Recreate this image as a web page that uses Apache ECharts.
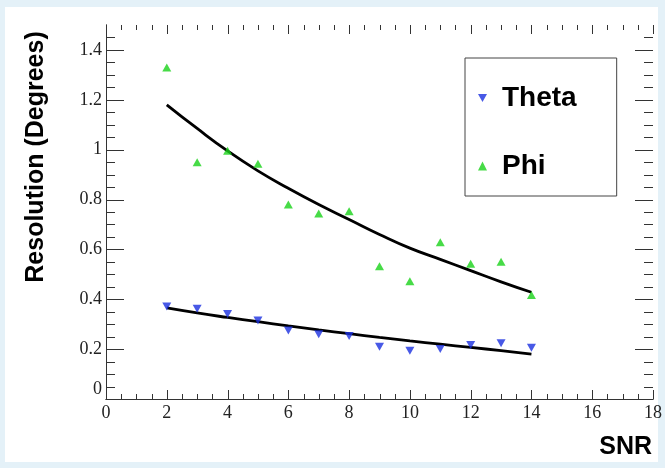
<!DOCTYPE html>
<html>
<head>
<meta charset="utf-8">
<script src="https://cdn.jsdelivr.net/npm/echarts@6/dist/echarts.min.js"></script>
<style>
  html, body { margin: 0; padding: 0; background: #e4f1f8; }
  #chart { width: 665px; height: 468px; }
</style>
</head>
<body>
<div id="chart"></div>
<script>
// Signal-to-noise ratio at which each resolution was measured
const snr = [2, 3, 4, 5, 6, 7, 8, 9, 10, 11, 12, 13, 14];

// Measured angular resolution (degrees)
const theta = [0.371, 0.362, 0.341, 0.315, 0.275, 0.260, 0.253, 0.210, 0.194, 0.201, 0.217, 0.224, 0.206];
const phi   = [1.330, 0.950, 0.996, 0.944, 0.780, 0.744, 0.753, 0.532, 0.472, 0.629, 0.542, 0.550, 0.417];

// Fitted trend curves, sampled at the same SNR values
const thetaFit = [0.365, 0.345, 0.327, 0.310, 0.293, 0.277, 0.262, 0.247, 0.233, 0.220, 0.207, 0.194, 0.180];
const phiFit   = [1.180, 1.085, 0.995, 0.915, 0.845, 0.780, 0.720, 0.660, 0.605, 0.560, 0.515, 0.470, 0.428];

// Axis ticks
const xTicks = [0, 2, 4, 6, 8, 10, 12, 14, 16, 18];
const yTicks = [0, 0.2, 0.4, 0.6, 0.8, 1, 1.2, 1.4];
const yMax = 1.5;
const xMinorPerMajor = 4;   // minor step 0.5
const yMinorPerMajor = 4;   // minor step 0.05

const pairs = (xs, ys) => xs.map((x, i) => [x, ys[i]]);

// Tick marks (major and minor) as [value, isMajor]
const xStep = (xTicks[1] - xTicks[0]) / xMinorPerMajor;
const xTickMarks = [];
for (let k = 0; k * xStep <= xTicks[xTicks.length - 1] + 1e-9; k++) {
  xTickMarks.push([+(k * xStep).toFixed(4), k % xMinorPerMajor === 0 ? 1 : 0]);
}
const yStep = (yTicks[1] - yTicks[0]) / yMinorPerMajor;
const yTickMarks = [];
for (let k = 0; k * yStep < yMax - 1e-9; k++) {
  yTickMarks.push([k % yMinorPerMajor === 0 ? 1 : 0, +(k * yStep).toFixed(4)]);
}

const serifLabel = { fontFamily: '"Liberation Serif", "DejaVu Serif", serif', fontSize: 18, color: '#222' };
const frameLine = { show: true, lineStyle: { color: '#333', width: 1 } };
const TICK_COLOR = '#333';
const crisp = v => Math.round(v) + 0.5;

const xScale = {
  type: 'value',
  min: xTicks[0],
  max: xTicks[xTicks.length - 1],
  interval: xTicks[1] - xTicks[0],
  splitLine: { show: false },
  axisLine: frameLine,
  axisTick: { show: false }
};
const yScale = {
  type: 'value',
  min: yTicks[0],
  max: yMax,
  interval: yTicks[1] - yTicks[0],
  splitLine: { show: false },
  axisLine: frameLine,
  axisTick: { show: false }
};

// Inward ticks on the bottom and top edges of the frame
function renderXTicks(params, api) {
  const v = api.value(0);
  const len = api.value(1) ? 9 : 5;
  const b = api.coord([v, yTicks[0]]);
  const t = api.coord([v, yMax]);
  const x = crisp(b[0]);
  const style = { stroke: TICK_COLOR, lineWidth: 1 };
  return {
    type: 'group',
    children: [
      { type: 'line', shape: { x1: x, y1: b[1], x2: x, y2: b[1] - len }, style },
      { type: 'line', shape: { x1: x, y1: t[1], x2: x, y2: t[1] + len }, style }
    ]
  };
}
// Inward ticks on the left and right edges of the frame
function renderYTicks(params, api) {
  const v = api.value(1);
  const len = api.value(0) ? 18 : 9;
  const l = api.coord([xTicks[0], v]);
  const r = api.coord([xTicks[xTicks.length - 1], v]);
  const y = crisp(l[1]);
  const style = { stroke: TICK_COLOR, lineWidth: 1 };
  return {
    type: 'group',
    children: [
      { type: 'line', shape: { x1: l[0], y1: y, x2: l[0] + len, y2: y }, style },
      { type: 'line', shape: { x1: r[0], y1: y, x2: r[0] - len, y2: y }, style }
    ]
  };
}

const downTri = 'path://M0,0L10,0L5,9Z';

const chart = echarts.init(document.getElementById('chart'));
chart.setOption({
  backgroundColor: '#e4f1f8',
  animation: false,
  grid: { left: 106, top: 25, width: 547, height: 374 },
  xAxis: [
    Object.assign({}, xScale, {
      position: 'bottom',
      axisLabel: Object.assign({ margin: 5 }, serifLabel)
    }),
    Object.assign({}, xScale, { position: 'top', axisLabel: { show: false } })
  ],
  yAxis: [
    Object.assign({}, yScale, {
      position: 'left',
      axisLabel: Object.assign({
        margin: 4,
        showMaxLabel: false,
        formatter: v => (v === 0 ? '{z|0}' : String(v)),
        rich: { z: Object.assign({ padding: [0, 0, 20, 0] }, serifLabel) }
      }, serifLabel)
    }),
    Object.assign({}, yScale, { position: 'right', axisLabel: { show: false } })
  ],
  legend: {
    orient: 'vertical',
    left: 465,
    top: 58,
    padding: [26, 40, 16, 13],
    itemGap: 40,
    itemWidth: 9,
    itemHeight: 9,
    borderColor: '#444',
    borderWidth: 1,
    backgroundColor: '#fff',
    textStyle: {
      fontFamily: '"Liberation Sans", Arial, sans-serif',
      fontWeight: 'bold',
      fontSize: 28,
      lineHeight: 28,
      color: '#000',
      padding: [0, 0, 0, 10]
    },
    data: [
      { name: 'Theta', icon: downTri },
      { name: 'Phi', icon: 'triangle' }
    ]
  },
  graphic: [
    {
      type: 'rect', z: -10, silent: true,
      shape: { x: 5, y: 7, width: 653, height: 455 },
      style: { fill: '#ffffff' }
    },
    {
      type: 'text', x: 36, y: 157, rotation: Math.PI / 2,
      style: {
        text: 'Resolution (Degrees)',
        font: 'bold 25px "Liberation Sans", Arial, sans-serif',
        fill: '#000', align: 'center', verticalAlign: 'middle'
      }
    },
    {
      type: 'text', x: 652, y: 447,
      style: {
        text: 'SNR',
        font: 'bold 25px "Liberation Sans", Arial, sans-serif',
        fill: '#000', align: 'right', verticalAlign: 'middle'
      }
    }
  ],
  series: [
    {
      type: 'custom', silent: true, clip: false, z: 1,
      renderItem: renderXTicks, data: xTickMarks
    },
    {
      type: 'custom', silent: true, clip: false, z: 1,
      renderItem: renderYTicks, data: yTickMarks
    },
    {
      name: 'Theta fit', type: 'line', smooth: true, showSymbol: false, silent: true,
      data: pairs(snr, thetaFit),
      lineStyle: { color: '#000', width: 2.8 }, z: 3
    },
    {
      name: 'Phi fit', type: 'line', smooth: true, showSymbol: false, silent: true,
      data: pairs(snr, phiFit),
      lineStyle: { color: '#000', width: 2.8 }, z: 3
    },
    {
      name: 'Theta', type: 'scatter', symbol: downTri, symbolSize: [9, 8],
      data: pairs(snr, theta),
      itemStyle: { color: '#1a30e0' }, z: 4
    },
    {
      name: 'Phi', type: 'scatter', symbol: 'triangle', symbolSize: [9, 8],
      data: pairs(snr, phi),
      itemStyle: { color: '#19d219' }, z: 4
    }
  ]
});
</script>
</body>
</html>
